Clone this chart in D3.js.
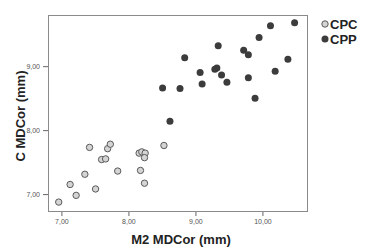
<!DOCTYPE html>
<html>
<head>
<meta charset="utf-8">
<script src="https://cdn.jsdelivr.net/npm/d3@7"></script>
<style>
html,body{margin:0;padding:0;background:#fff;}
svg{display:block;font-family:"Liberation Sans",Arial,sans-serif;}
</style>
</head>
<body>
<svg id="chart" width="374" height="249"></svg>
<script>
const xTicks = [7, 8, 9, 10];
const yTicks = [7, 8, 9];
const seriesNames = ["CPC", "CPP"];
const cpcX = [6.96,7.13,7.22,7.35,7.42,7.51,7.60,7.66,7.69,7.73,7.84,8.16,8.20,8.25,8.24,8.18,8.24,8.53];
const cpcY = [6.875,7.15,6.98,7.31,7.73,7.08,7.54,7.55,7.71,7.78,7.36,7.64,7.66,7.64,7.57,7.37,7.17,7.76];
const cppX = [8.51,8.77,8.84,8.62,9.07,9.10,9.29,9.32,9.34,9.39,9.47,9.72,9.79,9.79,9.89,9.95,10.12,10.19,10.38,10.48];
const cppY = [8.66,8.65,9.13,8.14,8.90,8.72,8.95,8.97,9.32,8.86,8.75,9.25,9.18,8.82,8.50,9.45,9.63,8.92,9.11,9.68];

const svg = d3.select("#chart");
const L = 48, T = 15, R = 308, B = 212;
const x = d3.scaleLinear().domain([6.80, 10.68]).range([L, R]);
const y = d3.scaleLinear().domain([6.72, 9.80]).range([B, T]);
const fmt = d => d3.format(".2f")(d).replace(".", ",");

svg.append("rect").attr("x", L + 0.5).attr("y", T + 0.5)
  .attr("width", R - L - 1).attr("height", B - T - 1)
  .attr("fill", "#fff").attr("stroke", "#8a8a8a").attr("stroke-width", 1);

const xa = svg.append("g").attr("transform", `translate(0,${B})`)
  .call(d3.axisBottom(x).tickValues(xTicks).tickFormat(fmt).tickSize(4).tickPadding(3));
const ya = svg.append("g").attr("transform", `translate(${L},0)`)
  .call(d3.axisLeft(y).tickValues(yTicks).tickFormat(fmt).tickSize(5).tickPadding(3));
[xa, ya].forEach(g => {
  g.select(".domain").remove();
  g.selectAll("line").attr("stroke", "#666");
  g.selectAll("text").attr("fill", "#555").style("font-size", "7px");
});

const style = {
  CPC: {fill: "#d4d4d4", stroke: "#5a5a5a"},
  CPP: {fill: "#3c3c3c", stroke: "#3c3c3c"}
};
const cpc = cpcX.map((v, i) => ({x: v, y: cpcY[i]}));
const cpp = cppX.map((v, i) => ({x: v, y: cppY[i]}));

svg.append("g").selectAll("circle").data(cpc).join("circle")
  .attr("cx", d => x(d.x)).attr("cy", d => y(d.y)).attr("r", 3.2)
  .attr("fill", style.CPC.fill).attr("stroke", style.CPC.stroke).attr("stroke-width", 1);
svg.append("g").selectAll("circle").data(cpp).join("circle")
  .attr("cx", d => x(d.x)).attr("cy", d => y(d.y)).attr("r", 3.5)
  .attr("fill", style.CPP.fill);

svg.append("text").attr("x", 181).attr("y", 244).attr("text-anchor", "middle")
  .style("font-size", "13px").style("font-weight", "bold").attr("fill", "#222")
  .text("M2 MDCor (mm)");
svg.append("text").attr("transform", "translate(25,116) rotate(-90)")
  .attr("text-anchor", "middle")
  .style("font-size", "13px").style("font-weight", "bold").attr("fill", "#222")
  .text("C MDCor (mm)");

const leg = svg.append("g");
seriesNames.forEach((n, i) => {
  const cy = 24 + i * 15;
  leg.append("circle").attr("cx", 325).attr("cy", cy).attr("r", n === "CPC" ? 3.2 : 3.5)
    .attr("fill", style[n].fill).attr("stroke", n === "CPC" ? style[n].stroke : "none");
  leg.append("text").attr("x", 330).attr("y", cy + 4.5)
    .style("font-size", "13px").style("font-weight", "bold").attr("fill", "#222").text(n);
});
</script>
</body>
</html>
